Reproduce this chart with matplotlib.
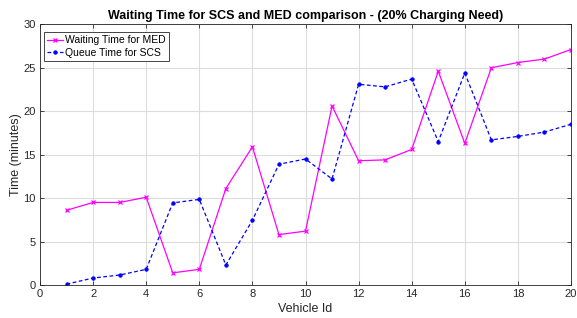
import matplotlib
matplotlib.use("Agg")
import matplotlib.pyplot as plt
import numpy as np

# vehicle ids and waiting / queue times (minutes)
vehicle_id = np.arange(1, 21)
med_wait = [8.6, 9.5, 9.5, 10.1, 1.4, 1.8, 11.1, 15.9, 5.8, 6.2,
            20.6, 14.3, 14.4, 15.6, 24.6, 16.3, 25.0, 25.6, 26.0, 27.1]
scs_queue = [0.1, 0.8, 1.15, 1.8, 9.45, 9.85, 2.3, 7.45, 13.9, 14.5,
             12.2, 23.1, 22.8, 23.7, 16.5, 24.4, 16.7, 17.1, 17.6, 18.5]

plt.rcParams["font.family"] = ["Liberation Sans", "DejaVu Sans"]
txt = "#262626"

fig = plt.figure(figsize=(5.77, 3.18), dpi=100)
ax = fig.add_axes([40/577, 1-285/318, 531/577, 260.7/318])

ax.plot(vehicle_id, med_wait, color="#FF00FF", lw=0.9, marker="x",
        ms=3, mew=0.9, label="Waiting Time for MED")
ax.plot(vehicle_id, scs_queue, color="#0000FF", lw=0.9, ls=(0, (3, 2)),
        marker="o", ms=2.5, mew=0.6, label="Queue Time for SCS")

ax.set_xlim(0, 20)
ax.set_ylim(0, 30)
ax.set_xticks(np.arange(0, 21, 2))
ax.set_yticks(np.arange(0, 31, 5))
ax.grid(True, color="#dcdcdc", lw=0.8)
ax.set_axisbelow(True)
ax.tick_params(direction="in", top=True, right=True, labelsize=8,
               colors=txt, length=3, width=0.6, pad=3)
for s in ax.spines.values():
    s.set_color(txt)
    s.set_linewidth(0.6)

ax.set_xlabel("Vehicle Id", fontsize=9, color=txt, labelpad=3)
ax.set_ylabel("Time (minutes)", fontsize=9, color=txt, labelpad=1)
ax.set_title("Waiting Time for SCS and MED comparison - (20% Charging Need)",
             fontsize=9, fontweight="bold", color="black", pad=4)

leg = ax.legend(loc="upper left", bbox_to_anchor=(0.0075, 0.97),
                borderaxespad=0, fontsize=7.5, fancybox=False,
                framealpha=1, edgecolor=txt, borderpad=0.3,
                labelspacing=0.25, handlelength=1.5, handletextpad=0.2)
leg.get_frame().set_linewidth(0.6)

fig.savefig("out.png", dpi=100)
